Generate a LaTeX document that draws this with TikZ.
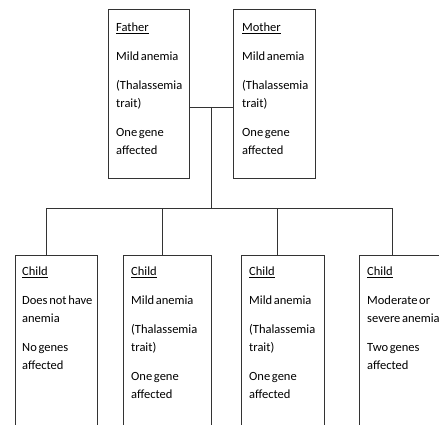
\documentclass[tikz,border=0pt]{standalone}
\usepackage{fontspec}
\setmainfont{Carlito}[WordSpace=0.6]
\usetikzlibrary{positioning}
\tikzset{
	box/.style={draw=black!80, line width=0.8pt, anchor=north west, inner sep=0pt},
	info/.style={anchor=north west, align=left, inner sep=0pt, font=\fontsize{12.5}{18}\selectfont},
	link/.style={draw=black!80, line width=0.8pt}
}
\newcommand{\gap}{\\[11pt]}
\begin{document}
\begin{tikzpicture}[x=1pt, y=-1pt]
	\useasboundingbox (0,0) rectangle (439,425);
	\clip (0,0) rectangle (439,425);
	% parents
	\node [box, minimum width=81pt, minimum height=169pt] (father) at (108,9) {};
	\node [box, minimum width=82pt, minimum height=169pt] (mother) at (233,9) {};
	\node [info] (fathertext) at ([shift={(8,14)}]father.north west)
	{\underline{Father}\gap Mild anemia\gap (Thalassemia\\trait)\gap One gene\\affected};
	\node [info] (mothertext) at ([shift={(9,14)}]mother.north west)
	{\underline{Mother}\gap Mild anemia\gap (Thalassemia\\trait)\gap One gene\\affected};
	% children
	\node [box, minimum width=82pt, minimum height=200pt] (childa) at (15,255) {};
	\node [box, minimum width=88pt, minimum height=200pt] (childb) at (123,255) {};
	\node [box, minimum width=83pt, minimum height=200pt] (childc) at (241,255) {};
	\node [box, minimum width=90pt, minimum height=200pt] (childd) at (359,255) {};
	\node [info] (childatext) at ([shift={(7,12)}]childa.north west)
	{\underline{Child}\gap Does not have\\anemia\gap No genes\\affected};
	\node [info] (childbtext) at ([shift={(8,12)}]childb.north west)
	{\underline{Child}\gap Mild anemia\gap (Thalassemia\\trait)\gap One gene\\affected};
	\node [info] (childctext) at ([shift={(8,12)}]childc.north west)
	{\underline{Child}\gap Mild anemia\gap (Thalassemia\\trait)\gap One gene\\affected};
	\node [info] (childdtext) at ([shift={(8,12)}]childd.north west)
	{\underline{Child}\gap Moderate or\\severe anemia\gap Two genes\\affected};
	% connectors
	\coordinate (knot) at (211,107);
	\coordinate (bus) at (211,208);
	\draw [link] (knot -| father.east) -- (knot -| mother.west);
	\draw [link] (knot) -- (bus);
	\foreach \c/\x in {childa/46, childb/162, childc/277, childd/392}
		\coordinate (drop\c) at (\x,208);
	\draw [link] (dropchilda) -- (dropchildd);
	\foreach \c in {childa, childb, childc, childd}
		\draw [link] (drop\c) -- (drop\c |- \c.north);
\end{tikzpicture}
\end{document}
